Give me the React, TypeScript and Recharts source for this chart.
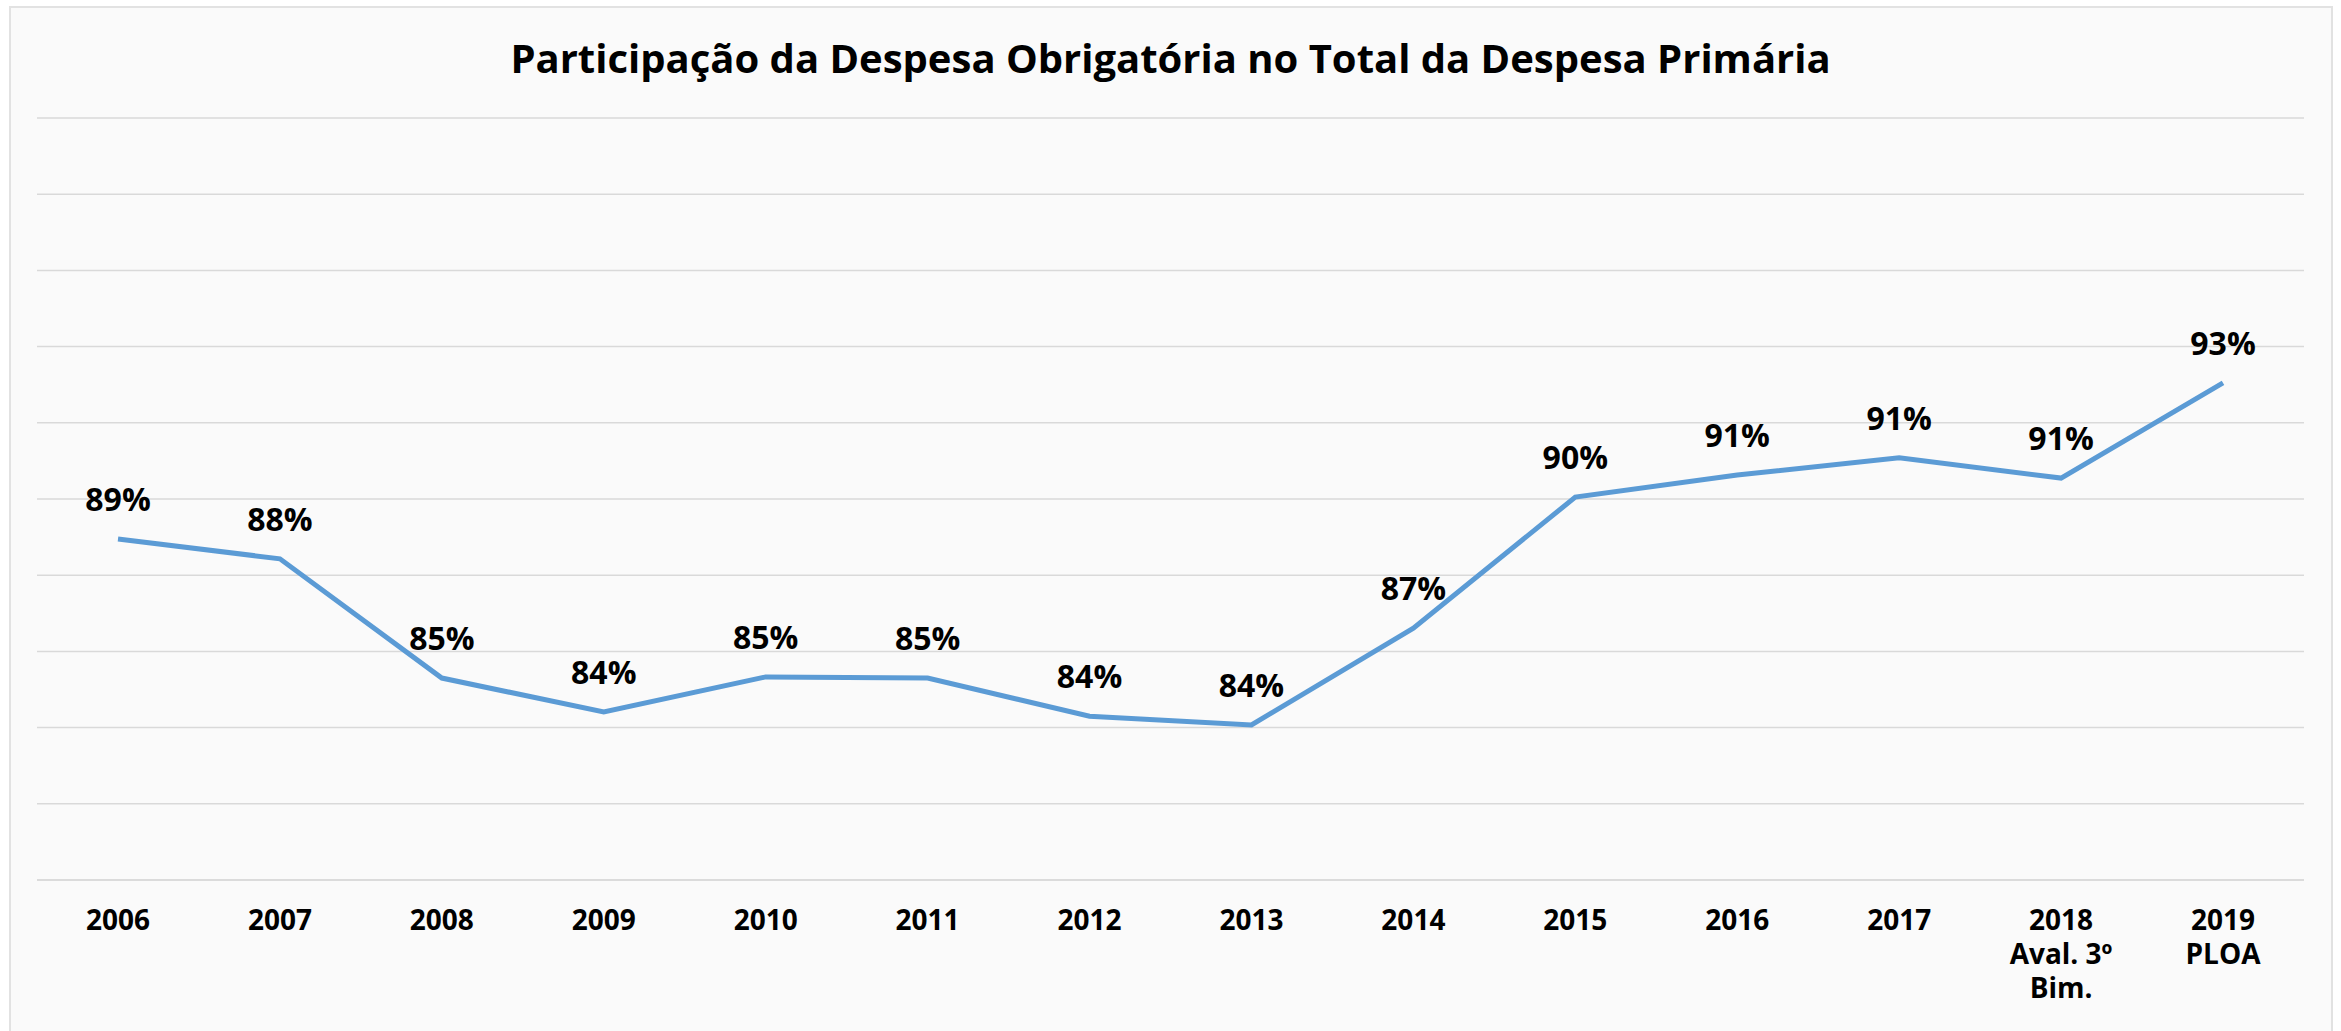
import React from "react";
import { LineChart, Line, XAxis, YAxis, CartesianGrid, LabelList } from "recharts";

const years = [
  "2006",
  "2007",
  "2008",
  "2009",
  "2010",
  "2011",
  "2012",
  "2013",
  "2014",
  "2015",
  "2016",
  "2017",
  "2018\nAval. 3º\nBim.",
  "2019\nPLOA",
];

// participação (%)
const share = [
  88.95, 88.43, 85.3, 84.41, 85.33, 85.3, 84.3, 84.07, 86.61, 90.05, 90.63,
  91.08, 90.55, 93.05,
];

const yTicks = [80, 82, 84, 86, 88, 90, 92, 94, 96, 98, 100];

const data = years.map((year, i) => ({ year, share: share[i] }));

const FONT = "'Open Sans', sans-serif";

function YearTick(props: any) {
  const { x, y, payload } = props;
  const lines = String(payload.value).split("\n");
  return (
    <text
      x={x}
      y={y}
      textAnchor="middle"
      fontFamily={FONT}
      fontWeight={700}
      fontSize={28}
      fill="#000"
    >
      {lines.map((line, i) => (
        <tspan key={i} x={x} dy={i === 0 ? 42 : 34}>
          {line}
        </tspan>
      ))}
    </text>
  );
}

export default function App() {
  return (
    <div
      style={{
        position: "absolute",
        left: 0,
        top: 0,
        width: 2341,
        height: 1031,
        background: "#fff",
        overflow: "hidden",
      }}
    >
      <div
        style={{
          position: "absolute",
          left: 9,
          top: 6,
          width: 2320,
          height: 1040,
          border: "2px solid #e2e2e2",
          background: "#fafafa",
        }}
      />
      <div
        style={{
          position: "absolute",
          left: 0,
          top: 30,
          width: 2341,
          textAlign: "center",
          fontFamily: FONT,
          fontWeight: 700,
          fontSize: 40,
          color: "#000",
          lineHeight: "56px",
        }}
      >
        Participação da Despesa Obrigatória no Total da Despesa Primária
      </div>
      <div style={{ position: "absolute", left: 0, top: 0 }}>
        <LineChart
          width={2341}
          height={1031}
          data={data}
          margin={{ top: 118, right: 37, bottom: 31, left: 37 }}
        >
          <CartesianGrid vertical={false} stroke="#d9d9d9" strokeWidth={1.5} />
          <XAxis
            dataKey="year"
            interval={0}
            height={120}
            padding={{ left: 81, right: 81 }}
            axisLine={{ stroke: "#d9d9d9", strokeWidth: 1.5 }}
            tickLine={false}
            tick={<YearTick />}
          />
          <YAxis hide domain={[80, 100]} ticks={yTicks} />
          <Line
            type="linear"
            dataKey="share"
            stroke="#5b9bd5"
            strokeWidth={5}
            dot={false}
            activeDot={false}
            isAnimationActive={false}
          >
            <LabelList
              dataKey="share"
              position="top"
              offset={28}
              formatter={(v: any) => `${Math.round(Number(v))}%`}
              style={{
                fontFamily: FONT,
                fontWeight: 700,
                fontSize: 32,
                fill: "#000",
              }}
            />
          </Line>
        </LineChart>
      </div>
    </div>
  );
}
